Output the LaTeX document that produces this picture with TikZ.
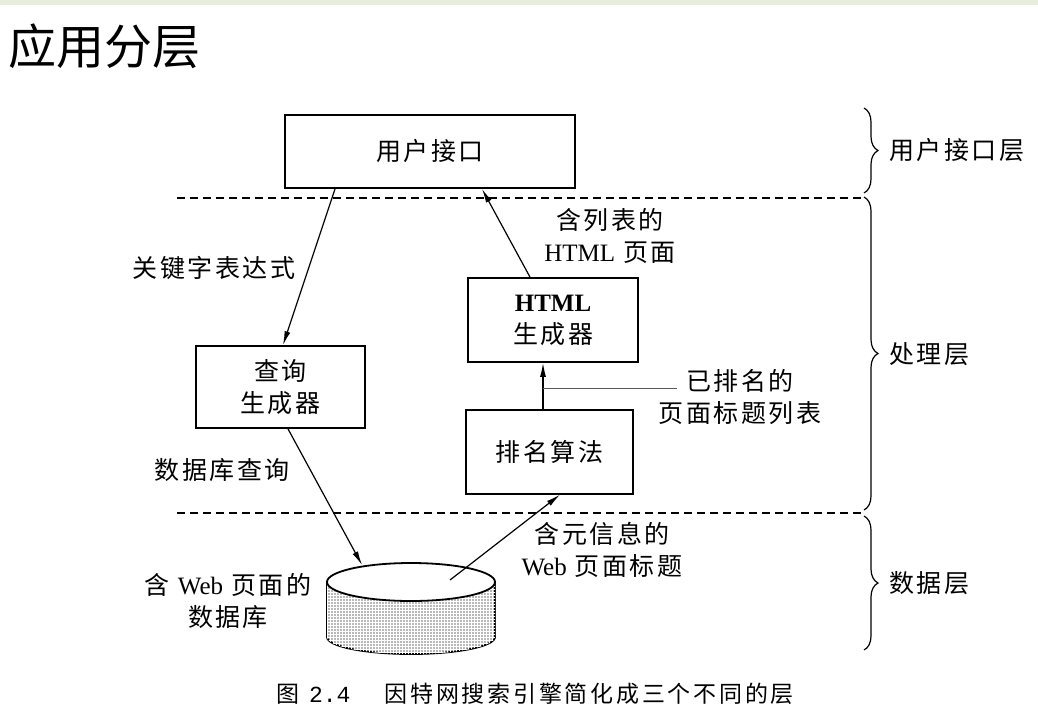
\documentclass[tikz,border=0pt]{standalone}
\usepackage{fontspec}
\setmainfont[LetterSpace=10]{Noto Sans CJK SC}
\newfontfamily\lat{Liberation Serif}
\newfontfamily\titlefont{Noto Sans CJK SC}
\newfontfamily\capfont[LetterSpace=12]{Noto Sans CJK SC}
\newfontfamily\capmono{Liberation Mono}
\usetikzlibrary{positioning,arrows.meta,decorations.pathreplacing,patterns}
\definecolor{bandgreen}{RGB}{232,238,222}

\begin{document}
\begin{tikzpicture}[
    x=1pt, y=-1pt,
    box/.style={draw, line width=1.8pt, align=center, inner sep=0pt,
                font=\fontsize{25}{32}\selectfont},
    lbl/.style={align=center, inner sep=0pt, font=\fontsize{25}{32}\selectfont},
    arr/.style={-{Latex[length=14pt,width=6pt]}, line width=1.2pt},
    sep/.style={dashed, dash pattern=on 8pt off 5pt, line width=1.2pt},
    layer/.style={decorate, decoration={brace, amplitude=14pt}, line width=1.2pt},
    dbfill/.style={fill=gray!55, postaction={pattern=grid, pattern color=white}}
]
\useasboundingbox (0,0) rectangle (1038,724);
\fill[bandgreen] (0,0) rectangle (1038,5);

% title and caption
\node[anchor=west, inner sep=0pt, font=\titlefont\fontsize{48}{48}\selectfont] (title) at (8,46) {应用分层};
\node[inner sep=0pt, font=\fontsize{23}{23}\selectfont] (caption) at (535,694)
    {\capfont 图\hspace{10pt}{\capmono 2.4}\hspace{34pt}因特网搜索引擎简化成三个不同的层};

% boxes
\node[box, minimum width=290pt, minimum height=73pt] (ui) at (430,151.5) {用户接口};
\node[box, minimum width=169pt, minimum height=82pt] (query) at (280.5,387) {查询\\生成器};
\node[box, minimum width=170pt, minimum height=84pt] (html) at (553,320) {{\lat\bfseries HTML}\\生成器};
\node[box, minimum width=167pt, minimum height=84pt, below=46pt of html, xshift=-3.5pt] (rank) {排名算法};

% database
\coordinate (db) at (411,582);
\filldraw[dbfill, line width=1.8pt] (327,582) -- (327,637)
    arc[start angle=180, end angle=0, x radius=84, y radius=17] -- (495,582) -- cycle;
\draw[line width=1.8pt, fill=white] (db) ellipse[x radius=84, y radius=19];
\coordinate (dbin) at (362,565);
\coordinate (dbout) at (450,580);

% layer separators
\coordinate (s1w) at (177,198);
\coordinate (s1e) at (862,198);
\coordinate (s2w) at (177,513);
\coordinate (s2e) at (862,513);
\draw[sep] (s1w) -- (s1e);
\draw[sep] (s2w) -- (s2e);

% connectors
\draw[arr] ([xshift=-95pt]ui.south) -- ([xshift=2.5pt]query.north);
\draw[arr] ([xshift=-23pt]html.north) -- ([xshift=52pt]ui.south);
\draw[arr] ([xshift=-6.5pt]rank.north) -- ([xshift=-10pt]html.south);
\draw[arr] ([xshift=7.5pt]query.south) -- (dbin);
\draw[arr] (dbout) -- ([xshift=10.5pt]rank.south);

% connector labels
\node[lbl] (kw) at (214,268) {关键字表达式};
\node[lbl] (page) at (610,236) {含列表的\\{\lat HTML} 页面};
\node[lbl] (ranked) at (740,397) {已排名的\\页面标题列表};
\coordinate (lead) at (543,388);
\draw[line width=0.9pt, gray!70!black] (lead) -- (677,388);
\node[lbl] (dbq) at (222,470) {数据库查询};
\node[lbl] (meta) at (602,550) {含元信息的\\{\lat Web} 页面标题};
\node[lbl] (dbname) at (228,601) {含 {\lat Web} 页面的\\数据库};

% layer braces
\draw[layer] (864,108) -- (864,193);
\draw[layer] (864,197) -- (864,510);
\draw[layer] (864,516) -- (864,650);
\node[lbl, anchor=west] (lui) at (889,150) {用户接口层};
\node[lbl, anchor=west] (lproc) at (889,354) {处理层};
\node[lbl, anchor=west] (ldata) at (889,583) {数据层};
\end{tikzpicture}
\end{document}
